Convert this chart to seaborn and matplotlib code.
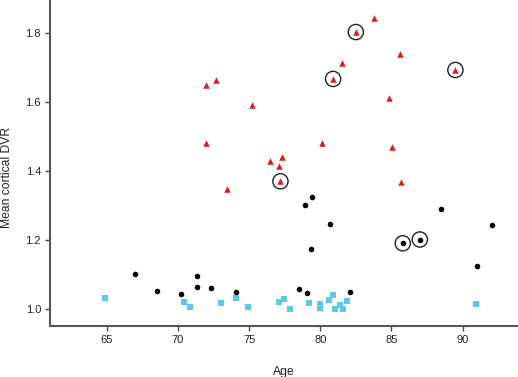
import numpy as np
import pandas as pd
import matplotlib
matplotlib.use("Agg")
import matplotlib.pyplot as plt
import seaborn as sns

# red triangles
red_age = [72.0, 72.7, 75.2, 72.0, 73.45, 83.8, 82.5, 85.6, 81.5, 89.5,
           80.9, 84.8, 80.1, 85.05, 77.3, 76.5, 77.1, 77.2, 85.7]
red_dvr = [1.650, 1.665, 1.592, 1.483, 1.350, 1.845, 1.804, 1.741, 1.714, 1.694,
           1.668, 1.614, 1.483, 1.469, 1.442, 1.429, 1.416, 1.371, 1.368]
red_ring = [0, 0, 0, 0, 0, 0, 1, 0, 0, 1,
            1, 0, 0, 0, 0, 0, 0, 1, 0]

# black circles
black_age = [67.0, 68.5, 70.2, 71.3, 71.35, 72.3, 74.1, 79.4, 78.9, 80.7,
             79.35, 88.5, 92.1, 85.8, 87.0, 91.0, 78.5, 79.05, 82.1]
black_dvr = [1.102, 1.054, 1.045, 1.095, 1.064, 1.060, 1.049, 1.324, 1.303, 1.246,
             1.174, 1.290, 1.244, 1.191, 1.202, 1.126, 1.057, 1.046, 1.049]
black_ring = [0, 0, 0, 0, 0, 0, 0, 0, 0, 0,
              0, 0, 0, 1, 1, 0, 0, 0, 0]

# cyan squares
cyan_age = [64.9, 70.4, 70.85, 73.0, 74.1, 74.9, 77.1, 77.45, 77.9, 79.2,
            80.0, 80.0, 80.6, 80.9, 81.05, 81.4, 81.6, 81.9, 90.95]
cyan_dvr = [1.031, 1.021, 1.005, 1.019, 1.033, 1.007, 1.022, 1.030, 0.999, 1.019,
            1.015, 1.002, 1.027, 1.040, 1.000, 1.012, 0.999, 1.024, 1.014]
cyan_ring = [0] * len(cyan_age)

x_ticks = [65, 70, 75, 80, 85, 90]
y_ticks = [1.0, 1.2, 1.4, 1.6, 1.8]

df = pd.concat([
    pd.DataFrame({"Age": red_age, "DVR": red_dvr, "group": "red", "ring": red_ring}),
    pd.DataFrame({"Age": black_age, "DVR": black_dvr, "group": "black", "ring": black_ring}),
    pd.DataFrame({"Age": cyan_age, "DVR": cyan_dvr, "group": "cyan", "ring": cyan_ring}),
], ignore_index=True)

sns.set_style("ticks")
plt.rcParams["font.family"] = ["Liberation Sans", "DejaVu Sans"]

fig = plt.figure(figsize=(5.18, 3.77), dpi=100)
ax = fig.add_axes([50 / 518, 1 - 326 / 377, 468 / 518, 326 / 377])

palette = {"red": "#D81E1E", "black": "#000000", "cyan": "#5CC8EC"}
markers = {"red": "^", "black": "o", "cyan": "s"}
sizes = {"red": 22, "black": 16, "cyan": 15}

for g in ["cyan", "black", "red"]:
    sub = df[df["group"] == g]
    sns.scatterplot(data=sub, x="Age", y="DVR", color=palette[g], marker=markers[g],
                    s=sizes[g], linewidth=0, ax=ax, legend=False, zorder=3)

# highlighted subjects
rings = df[df["ring"] == 1]
sns.scatterplot(data=rings, x="Age", y="DVR", marker="o", s=120, facecolor="none",
                edgecolor="#222222", linewidth=1.0, ax=ax, legend=False, zorder=4)

ax.set_xlim(61, 93.9)
ax.set_ylim(0.951, 1.897)
ax.set_xticks(x_ticks)
ax.set_yticks(y_ticks)
ax.set_xticklabels([str(t) for t in x_ticks])
ax.set_yticklabels([f"{t:.1f}" for t in y_ticks])
ax.tick_params(axis="both", labelsize=8, length=3.5, width=1.0, color="#444444",
               pad=3, labelcolor="#222222")

sns.despine(ax=ax)
for side in ["left", "bottom"]:
    ax.spines[side].set_color("#555555")
    ax.spines[side].set_linewidth(1.5)

ax.set_xlabel("Age", fontsize=8.7, labelpad=15, color="#222222")
ax.set_ylabel("Mean cortical DVR", fontsize=8.7, color="#222222")
ax.yaxis.set_label_coords(-37 / 468, 0.457)

fig.savefig("out.png", dpi=100)
